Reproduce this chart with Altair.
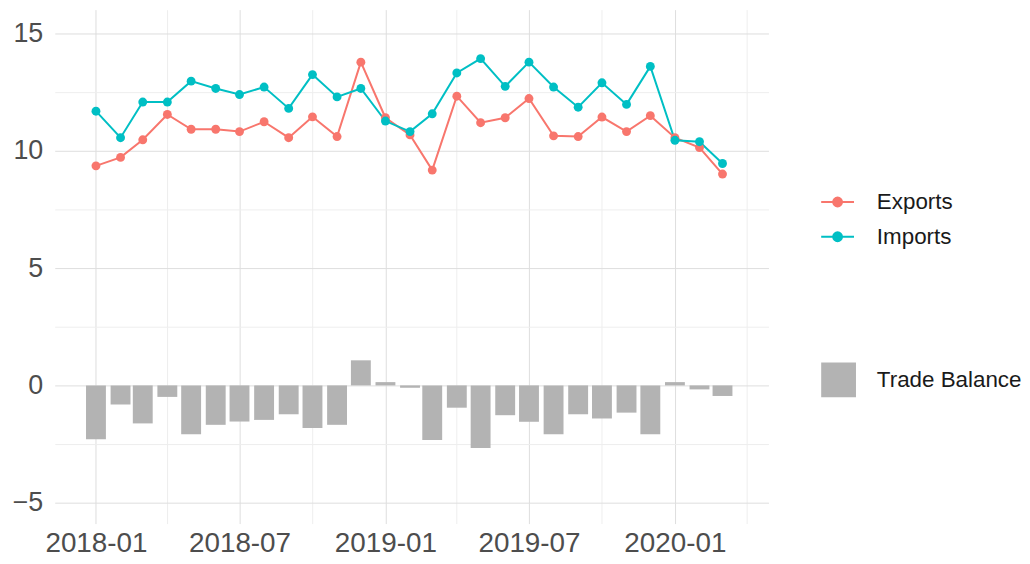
import altair as alt
import pandas as pd

months = ["2018-01", "2018-02", "2018-03", "2018-04", "2018-05", "2018-06", "2018-07",
          "2018-08", "2018-09", "2018-10", "2018-11", "2018-12", "2019-01", "2019-02",
          "2019-03", "2019-04", "2019-05", "2019-06", "2019-07", "2019-08", "2019-09",
          "2019-10", "2019-11", "2019-12", "2020-01", "2020-02", "2020-03"]
exports = [9.36, 9.72, 10.47, 11.55, 10.92, 10.92, 10.82, 11.24, 10.56, 11.45, 10.61, 13.78,
           11.41, 10.68, 9.18, 12.33, 11.20, 11.41, 12.23, 10.64, 10.61, 11.44, 10.82, 11.50,
           10.56, 10.14, 9.01]
imports = [11.69, 10.56, 12.08, 12.08, 12.97, 12.66, 12.40, 12.72, 11.81, 13.25, 12.30, 12.66,
           11.27, 10.82, 11.58, 13.32, 13.93, 12.75, 13.78, 12.72, 11.86, 12.90, 11.98, 13.60,
           10.45, 10.39, 9.46]
balance = [-2.29, -0.81, -1.62, -0.49, -2.08, -1.68, -1.54, -1.47, -1.23, -1.82, -1.68, 1.07,
           0.14, -0.10, -2.33, -0.95, -2.67, -1.27, -1.55, -2.08, -1.23, -1.41, -1.16, -2.08,
           0.14, -0.17, -0.45]
series_names = ["Exports", "Imports"]
series_colors = ["#F8766D", "#00BFC4"]
bar_name = "Trade Balance"
bar_color = "#B3B3B3"
y_ticks = [-5, -2.5, 0, 2.5, 5, 7.5, 10, 12.5, 15]

dates = [m + "-01" for m in months]
lines_df = pd.DataFrame({
    "date": dates * 2,
    "value": exports + imports,
    "series": [series_names[0]] * len(dates) + [series_names[1]] * len(dates),
})
bar_df = pd.DataFrame({"date": dates, "value": balance, "kind": [bar_name] * len(dates)})

x_tick_values = []
for y in (2018, 2019, 2020):
    for mth in (1, 4, 7, 10):
        if y == 2020 and mth > 4:
            continue
        x_tick_values.append(alt.DateTime(year=y, month=mth, date=1, utc=True))

FONT = "Liberation Sans"
TXT = "#4D4D4D"

x_scale = alt.Scale(type="utc", padding=0,
                    domain=[alt.DateTime(year=2017, month=11, date=10, utc=True),
                            alt.DateTime(year=2020, month=4, date=28, utc=True)])
y_scale = alt.Scale(domain=[-5.89, 16.02], nice=False, zero=False, padding=0)

x_axis = alt.Axis(
    values=x_tick_values,
    labelExpr="utcmonth(datum.value) % 6 === 0 ? utcFormat(datum.value, '%Y-%m') : ''",
    title=None, domain=False, ticks=False, labelFontSize=28, labelColor=TXT,
    labelFont=FONT, labelPadding=6, labelFlush=False,
    gridColor={"condition": {"test": "utcmonth(datum.value) % 6 === 0", "value": "#DEDEDE"},
               "value": "#EEEEEE"},
)
y_axis = alt.Axis(
    values=y_ticks,
    labelExpr="datum.value % 5 === 0 ? format(datum.value, 'd') : ''",
    title=None, domain=False, ticks=False, labelFontSize=27, labelColor=TXT,
    labelFont=FONT, labelPadding=12, minExtent=47, maxExtent=47,
    gridColor={"condition": {"test": "datum.value % 5 === 0", "value": "#DEDEDE"},
               "value": "#EEEEEE"},
)

bars = alt.Chart(bar_df).mark_bar(size=20).encode(
    x=alt.X("date:T", scale=x_scale, axis=x_axis),
    y=alt.Y("value:Q", scale=y_scale, axis=y_axis),
    fill=alt.Fill("kind:N", title=None,
                  scale=alt.Scale(domain=[bar_name], range=[bar_color]),
                  legend=alt.Legend(orient="none", legendX=771, legendY=355,
                                    symbolType="square", symbolSize=1225,
                                    symbolStrokeWidth=0, labelOffset=21, padding=0,
                                    labelFontSize=22.5, labelFont=FONT, labelColor="#1A1A1A")),
)

color_enc = alt.Color("series:N", title=None,
                      scale=alt.Scale(domain=series_names, range=series_colors),
                      legend=alt.Legend(orient="none", legendX=770, legendY=176,
                                        symbolType="M-1,0L1,0M-0.27,0A0.27,0.27,0,1,1,0.27,0A0.27,0.27,0,1,1,-0.27,0Z",
                                        symbolSize=1089, symbolStrokeWidth=2, labelOffset=22,
                                        rowPadding=6, padding=0, labelFontSize=22.5,
                                        labelFont=FONT, labelColor="#1A1A1A"))

lines = alt.Chart(lines_df).mark_line(strokeWidth=2).encode(
    x="date:T", y="value:Q", color=color_enc)
points = alt.Chart(lines_df).mark_circle(size=80, opacity=1).encode(
    x="date:T", y="value:Q", color=color_enc)

chart = alt.layer(bars, lines, points).properties(
    width=718, height=517, padding={"left": 0, "top": 0, "right": 0, "bottom": 0}
).configure_view(stroke=None).configure_axis(gridWidth=1)

chart.save("out.html", embed_options={"renderer": "svg", "actions": False})
